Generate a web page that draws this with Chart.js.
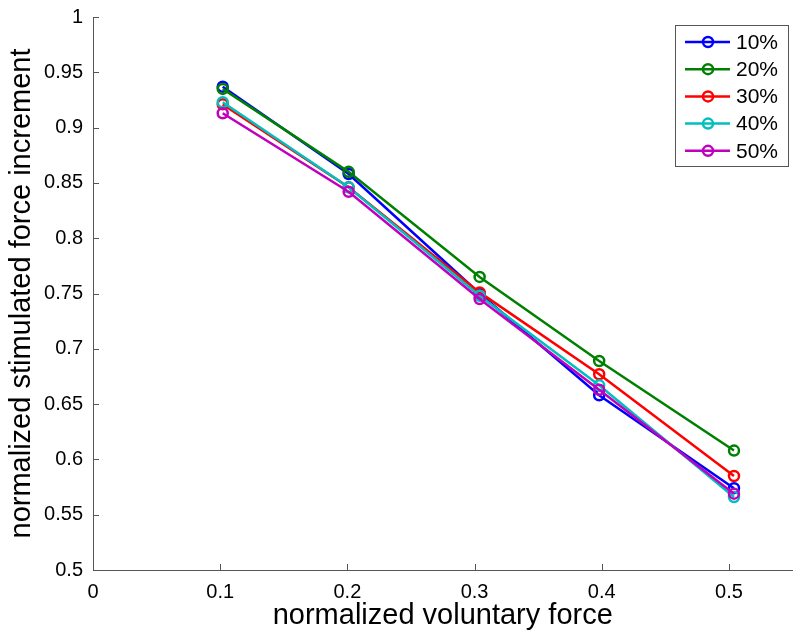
<!DOCTYPE html>
<html lang="en">
<head>
    <meta charset="UTF-8">
    <title>Stimulated force increment</title>
    <script src="https://cdn.jsdelivr.net/npm/chart.js"></script>
    <style>
        body { margin: 0; background: #fff; }
        canvas { display: block; }
    </style>
</head>
<body>
    <canvas id="forceChart" width="800" height="641"></canvas>

    <script>
        // values
        const voluntaryForce = [0.102, 0.201, 0.304, 0.398, 0.504];
        const seriesLabels = ["10%", "20%", "30%", "40%", "50%"];
        const inc10 = [0.937, 0.858, 0.750, 0.658, 0.574];
        const inc20 = [0.935, 0.860, 0.765, 0.689, 0.608];
        const inc30 = [0.921, 0.846, 0.751, 0.677, 0.585];
        const inc40 = [0.923, 0.846, 0.748, 0.667, 0.566];
        const inc50 = [0.913, 0.842, 0.745, 0.663, 0.569];
        const xTicks = [0, 0.1, 0.2, 0.3, 0.4, 0.5];
        const yTicks = [0.5, 0.55, 0.6, 0.65, 0.7, 0.75, 0.8, 0.85, 0.9, 0.95, 1];

        const colors = ["#0000ff", "#008000", "#ff0000", "#00bfbf", "#bf00bf"];
        const allSeries = [inc10, inc20, inc30, inc40, inc50];
        const FONT = "'Liberation Sans', Arial, sans-serif";

        const datasets = allSeries.map((vals, i) => ({
            label: seriesLabels[i],
            data: vals.map((v, j) => ({ x: voluntaryForce[j], y: v })),
            borderColor: colors[i],
            backgroundColor: "rgba(0,0,0,0)",
            borderWidth: 2.5,
            pointRadius: 5,
            pointBorderWidth: 2.5,
            pointBackgroundColor: "rgba(0,0,0,0)",
            pointBorderColor: colors[i],
            order: allSeries.length - 1 - i,
            tension: 0
        }));

        // matlab-style inward ticks + legend box inside the axes
        const matlabLook = {
            id: "matlabLook",
            afterDraw(chart) {
                const ctx = chart.ctx;
                const xs = chart.scales.x, ys = chart.scales.y;
                const area = chart.chartArea;
                ctx.save();
                ctx.strokeStyle = "#555";
                ctx.lineWidth = 1;
                ctx.beginPath();
                xTicks.forEach(v => {
                    const px = Math.round(xs.getPixelForValue(v)) + 0.5;
                    ctx.moveTo(px, area.bottom);
                    ctx.lineTo(px, area.bottom - 6);
                });
                yTicks.forEach(v => {
                    const py = Math.round(ys.getPixelForValue(v)) + 0.5;
                    ctx.moveTo(area.left, py);
                    ctx.lineTo(area.left + 6, py);
                });
                ctx.stroke();

                // legend
                const bx = 675, by = 25, bw = 113, bh = 141;
                ctx.fillStyle = "#fff";
                ctx.fillRect(bx, by, bw, bh);
                ctx.strokeStyle = "#555";
                ctx.strokeRect(bx + 0.5, by + 0.5, bw, bh);
                ctx.font = "21px " + FONT;
                ctx.textBaseline = "middle";
                chart.data.datasets.forEach((ds, i) => {
                    const y = by + 17 + i * 27.2;
                    ctx.strokeStyle = ds.borderColor;
                    ctx.lineWidth = 2.5;
                    ctx.beginPath();
                    ctx.moveTo(685, y);
                    ctx.lineTo(730, y);
                    ctx.stroke();
                    ctx.beginPath();
                    ctx.arc(708, y, 5, 0, Math.PI * 2);
                    ctx.stroke();
                    ctx.fillStyle = "#000";
                    ctx.fillText(ds.label, 736, y + 1);
                });
                ctx.restore();
            }
        };

        const ctx = document.getElementById("forceChart").getContext("2d");
        new Chart(ctx, {
            type: "line",
            data: { datasets: datasets },
            plugins: [matlabLook],
            options: {
                responsive: false,
                animation: false,
                layout: { padding: { top: 17, right: 5, left: 0, bottom: 0 } },
                plugins: { legend: { display: false }, tooltip: { enabled: false } },
                scales: {
                    x: {
                        type: "linear",
                        min: 0,
                        max: 0.55,
                        afterBuildTicks: s => { s.ticks = xTicks.map(v => ({ value: v })); },
                        afterFit: s => { s.height = 71; },
                        grid: { display: false },
                        border: { display: true, color: "#555", width: 1 },
                        ticks: {
                            color: "#000",
                            padding: 2,
                            maxRotation: 0,
                            font: { family: FONT, size: 20 },
                            callback: v => String(+v.toFixed(2))
                        },
                        title: {
                            display: true,
                            text: "normalized voluntary force",
                            color: "#000",
                            font: { family: FONT, size: 29 },
                            padding: { top: 0, bottom: 8 }
                        }
                    },
                    y: {
                        type: "linear",
                        min: 0.5,
                        max: 1,
                        afterBuildTicks: s => { s.ticks = yTicks.map(v => ({ value: v })); },
                        afterFit: s => { s.width = 93; },
                        grid: { display: false },
                        border: { display: true, color: "#555", width: 1 },
                        ticks: {
                            color: "#000",
                            padding: 2,
                            font: { family: FONT, size: 20 },
                            callback: v => String(+v.toFixed(2))
                        },
                        title: {
                            display: true,
                            text: "normalized stimulated force increment",
                            color: "#000",
                            font: { family: FONT, size: 29 },
                            padding: { top: 5, bottom: 0 }
                        }
                    }
                }
            }
        });
    </script>
</body>
</html>
